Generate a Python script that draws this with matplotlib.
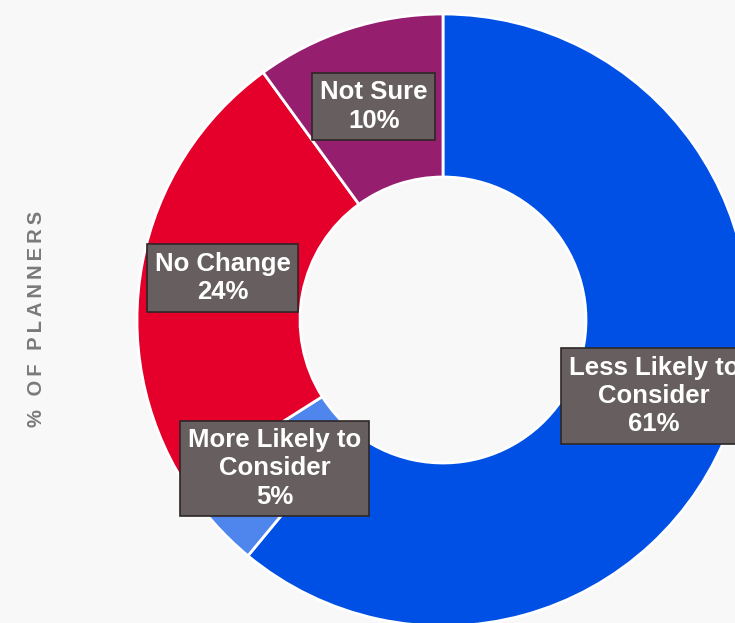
import matplotlib.pyplot as plt

# planners' likelihood to consider, share of respondents
categories = ['Less Likely to\nConsider', 'More Likely to\nConsider', 'No Change', 'Not Sure']
shares = [61, 5, 24, 10]
colors = ['#0050e6', '#4f86ee', '#e4002b', '#961e6f']

labels = [f'{c}\n{v}%' for c, v in zip(categories, shares)]

W, H = 735, 623
fig = plt.figure(figsize=(W / 100, H / 100), dpi=100)
fig.patch.set_facecolor('#f8f8f8')
ax = fig.add_axes([0, 0, 1, 1])
ax.set_facecolor('#f8f8f8')

# work in pixel units so the ring can run off the right and bottom edges
outer, inner = 306, 143
cx, cy = 443, H - 320
wedges, texts = ax.pie(shares, labels=labels, colors=colors, startangle=90,
                       counterclock=False, radius=outer, center=(cx, cy),
                       labeldistance=(outer + inner) / 2 / outer,
                       wedgeprops=dict(width=outer - inner, edgecolor='white', linewidth=2))

for t in texts:
    t.set_ha('center')
    t.set_va('center')
    t.set_multialignment('center')
    t.set_color('white')
    t.set_fontsize(18.5)
    t.set_fontweight('bold')
    t.set_family(['Liberation Sans', 'DejaVu Sans'])
    t.set_linespacing(1.22)
    t.set_bbox(dict(boxstyle='square,pad=0.3', facecolor='#675f5f',
                    edgecolor='#2e2626', linewidth=1.2))

ax.set_xlim(0, W)
ax.set_ylim(0, H)
ax.set_aspect('equal')
ax.axis('off')

# spaced-out axis title on the left
ytitle = '\u2009'.join('% OF PLANNERS')
ax.text(37, H - 319, ytitle, rotation=90, ha='center', va='center',
        fontsize=14.5, fontweight='bold', color='#7a7a7a',
        family=['Liberation Sans', 'DejaVu Sans'])

fig.savefig('out.png', dpi=100, facecolor=fig.get_facecolor())
